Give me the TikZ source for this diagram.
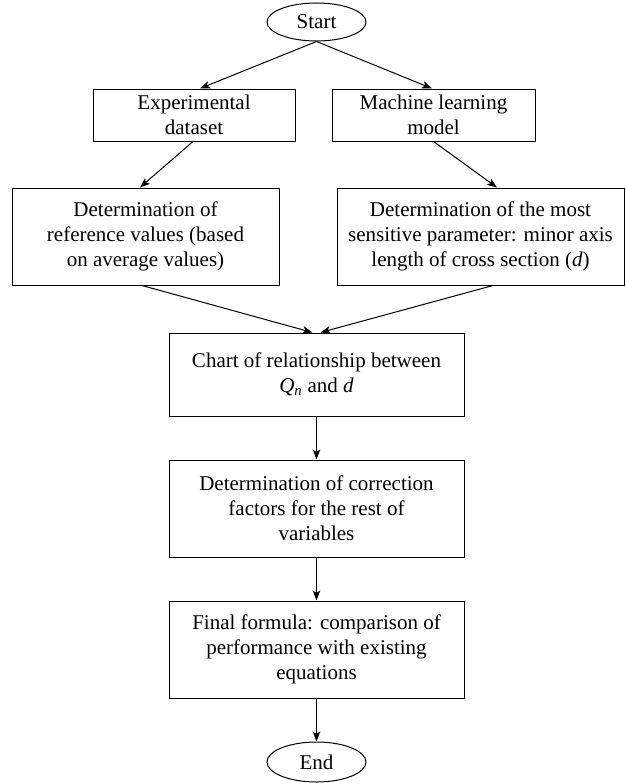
\documentclass[tikz,border=0pt]{standalone}
\usepackage{fontspec}
\setmainfont{Liberation Serif}
\usetikzlibrary{shapes.geometric,arrows.meta}
\begin{document}
\begin{tikzpicture}[x=1pt,y=-1pt,
  every node/.style={font=\fontsize{21}{25}\selectfont, text=black},
  box/.style={draw, line width=1pt, rectangle, align=center, inner sep=0pt},
  term/.style={draw, line width=1pt, ellipse, inner sep=0pt, minimum width=99pt, minimum height=38pt},
  arr/.style={-{Stealth[length=10pt,width=7.5pt,inset=2.5pt]}, line width=1pt}]
\useasboundingbox (0,0) rectangle (626,784);
\node[term] (start) at (316.5,22) {Start};
\node[box, minimum width=202pt, minimum height=52pt] (exp) at (194,115) {Experimental\\dataset};
\node[box, minimum width=203pt, minimum height=52pt] (ml) at (433.5,115) {Machine learning\\model};
\node[box, minimum width=267pt, minimum height=97pt] (ref) at (145.5,236.5) {Determination of\\reference values (based\\on average values)};
\node[box, minimum width=287pt, minimum height=97pt] (sens) at (480.5,236.5) {Determination of the most\\sensitive parameter: minor axis\\length of cross section (\textit{d})};
\node[box, minimum width=295pt, minimum height=83pt] (chart) at (316.5,374.5) {Chart of relationship between\\\textit{Q}\textsubscript{\textit{n}} and \textit{d}};
\node[box, minimum width=295pt, minimum height=97pt] (corr) at (316.5,508.5) {Determination of correction\\factors for the rest of\\variables};
\node[box, minimum width=295pt, minimum height=97pt] (final) at (316.5,649.5) {Final formula: comparison of\\performance with existing\\equations};
\node[term, minimum height=40pt] (end) at (316.5,762) {End};
\draw[arr] (start.south) -- ([xshift=6pt]exp.north);
\draw[arr] (start.south) -- ([xshift=-1.5pt]ml.north);
\draw[arr] ([xshift=-1pt]exp.south) -- ([xshift=-5.5pt]ref.north);
\draw[arr] (ml.south) -- ([xshift=16.5pt]sens.north);
\draw[arr] ([xshift=-3.5pt]ref.south) -- ([xshift=-4pt]chart.north);
\draw[arr] ([xshift=12.5pt]sens.south) -- ([xshift=4pt]chart.north);
\draw[arr] (chart) -- (corr);
\draw[arr] (corr) -- (final);
\draw[arr] (final) -- (end);
\end{tikzpicture}
\end{document}
